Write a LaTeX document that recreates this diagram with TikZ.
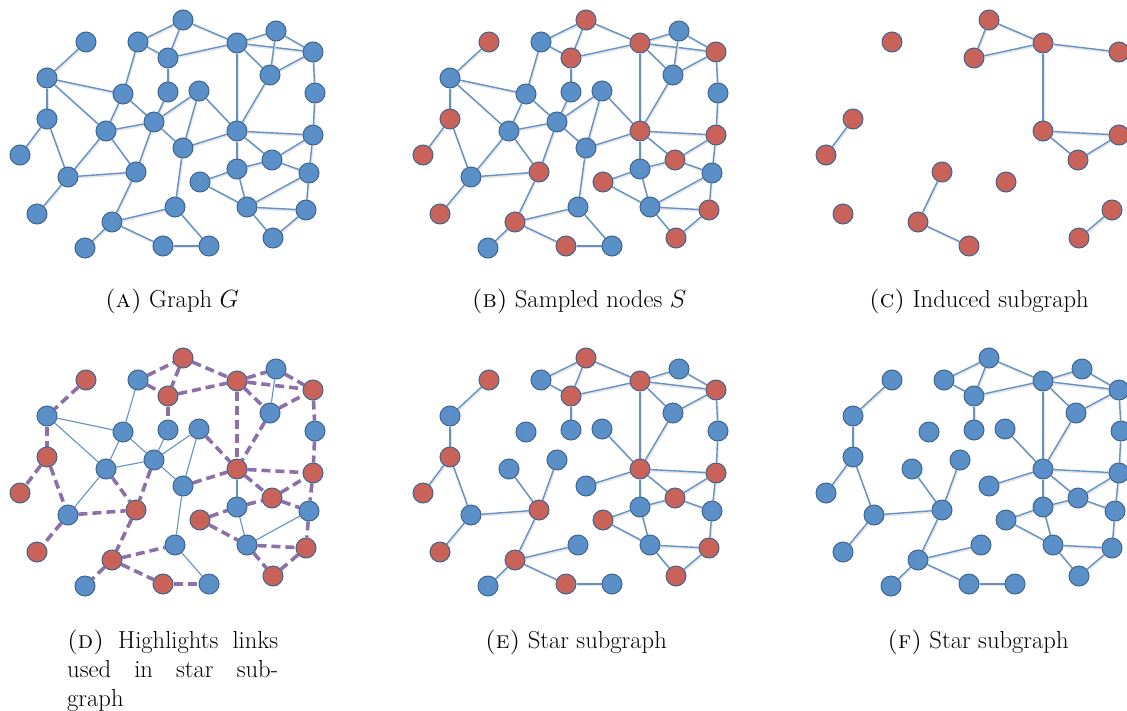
\documentclass[tikz,border=0pt]{standalone}
\usepackage{fontspec}
\usetikzlibrary{backgrounds}
\definecolor{nblue}{RGB}{91,143,199}
\definecolor{nred}{RGB}{201,99,89}
\definecolor{nbord}{RGB}{62,100,145}
\definecolor{eblue}{RGB}{100,145,198}
\definecolor{epurp}{RGB}{141,112,170}
\tikzset{
  gnode/.style={circle, minimum size=20pt, inner sep=0pt, draw=nbord, line width=1pt},
  bnode/.style={gnode, fill=nblue},
  rnode/.style={gnode, fill=nred},
  plainedge/.style={draw=eblue, line width=1.4pt},
  eshadow/.style={draw=black!10, line width=1.8pt, transform canvas={shift={(0.8pt,-1.4pt)}}},
  dedge/.style={draw=epurp, line width=3.6pt, dash pattern=on 9pt off 5pt},
  capt/.style={font=\fontsize{24.6}{29}\selectfont, anchor=base, inner sep=0pt},
}
\newcommand\gedge[2]{\draw[eshadow] (#1) -- (#2); \draw[plainedge] (#1) -- (#2);}
\def\Nodes{1/86/42/r,2/138/42/b,3/183/20/r,4/168/58/r,5/47/78/b,6/123/94/b,7/168/92/b,8/199/91/b,9/47/119/r,10/106/131/b,11/154/122/b,12/237/43/r,13/276/31/b,14/313/52/r,15/270/75/b,16/315/93/b,17/237/131/r,18/313/135/r,19/20/155/r,20/68/177/b,21/136/172/r,22/183/148/b,23/37/214/r,24/112/222/r,25/175/207/b,26/85/248/b,27/163/246/r,28/200/182/r,29/272/160/r,30/237/169/b,31/309/173/b,32/247/207/b,33/306/210/r,34/273/238/r,35/209/246/b}
\def\Edges{1/5/s,2/3/s,2/4/s,3/4/i,3/12/i,4/12/i,2/6/n,5/6/n,5/9/s,5/10/n,4/7/s,6/10/n,6/11/n,10/11/n,7/11/n,8/11/n,8/17/s,8/22/n,12/13/s,12/14/i,13/14/s,13/15/n,12/15/s,15/14/s,12/17/i,14/16/s,16/18/s,15/17/s,17/18/i,9/19/i,9/20/s,10/20/n,10/21/s,20/21/s,20/23/s,21/24/i,11/21/s,11/22/n,22/25/n,24/25/s,24/26/s,24/27/i,27/35/s,25/35/n,22/17/s,17/30/x,17/29/i,29/18/i,29/31/s,30/29/s,28/30/s,28/32/s,30/32/x,31/32/n,18/31/s,31/33/s,32/33/s,32/34/s,33/34/i}
\begin{document}
\begin{tikzpicture}[x=1pt,y=-1pt]
\useasboundingbox (0,0) rectangle (1127,710);
% ---------- Panel A: graph G ----------
\foreach \i/\px/\py/\cc in \Nodes {\node[bnode] (a\i) at (\px,\py) {};}
\begin{scope}[on background layer]
\foreach \u/\v/\et in \Edges {\gedge{a\u}{a\v}}
\end{scope}
% ---------- Panel B: sampled nodes ----------
\begin{scope}[shift={(403,0)}]
\foreach \i/\px/\py/\cc in \Nodes {\node[\cc node] (b\i) at (\px,\py) {};}
\end{scope}
\begin{scope}[on background layer]
\foreach \u/\v/\et in \Edges {\gedge{b\u}{b\v}}
\end{scope}
% ---------- Panel C: induced subgraph ----------
\begin{scope}[shift={(806,0)}]
\foreach \i/\px/\py/\cc in \Nodes {\if\cc r\node[rnode] (c\i) at (\px,\py) {};\fi}
\end{scope}
\begin{scope}[on background layer]
\foreach \u/\v/\et in \Edges {\if\et i\gedge{c\u}{c\v}\fi}
\end{scope}
% ---------- Panel D: highlighted links ----------
\begin{scope}[shift={(0,338)}]
\foreach \i/\px/\py/\cc in \Nodes {\node[\cc node] (d\i) at (\px,\py) {};}
\end{scope}
\begin{scope}[on background layer]
\foreach \u/\v/\et in \Edges {%
  \if\et n\draw[plainedge, line width=1.1pt] (d\u) -- (d\v);\else
  \if\et x\draw[plainedge, line width=1.1pt] (d\u) -- (d\v);\else
  \draw[dedge] (d\u) -- (d\v);\fi\fi}
\end{scope}
% ---------- Panel E: star subgraph ----------
\begin{scope}[shift={(403,338)}]
\foreach \i/\px/\py/\cc in \Nodes {\node[\cc node] (e\i) at (\px,\py) {};}
\end{scope}
\begin{scope}[on background layer]
\foreach \u/\v/\et in \Edges {\if\et n\else\gedge{e\u}{e\v}\fi}
\end{scope}
% ---------- Panel F: star subgraph (blue) ----------
\begin{scope}[shift={(806,338)}]
\foreach \i/\px/\py/\cc in \Nodes {\node[bnode] (f\i) at (\px,\py) {};}
\end{scope}
\begin{scope}[on background layer]
\foreach \u/\v/\et in \Edges {\if\et n\else\gedge{f\u}{f\v}\fi}
\end{scope}
% ---------- Captions ----------
\node[capt] (capA) at (172,307) {\textsc{(a)} Graph $G$};
\node[capt] (capB) at (579,307) {\textsc{(b)} Sampled nodes $S$};
\node[capt] (capC) at (979,307) {\textsc{(c)} Induced subgraph};
\node[capt, anchor=base west] (capD) at (67,648) {\parbox[t]{211pt}{\textsc{(d)} Highlights links\linebreak used in star sub-\linebreak graph}};
\node[capt] (capE) at (576,648) {\textsc{(e)} Star subgraph};
\node[capt] (capF) at (978,648) {\textsc{(f)} Star subgraph};
\end{tikzpicture}
\end{document}
